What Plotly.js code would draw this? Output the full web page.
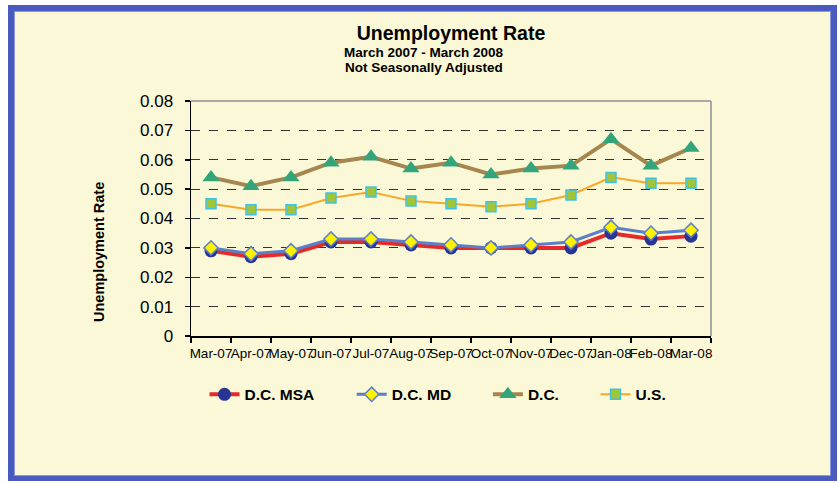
<!DOCTYPE html>
<html>
<head>
<meta charset="utf-8">
<script src="https://cdn.plot.ly/plotly-3.0.1.min.js"></script>
<style>
  html, body { margin: 0; padding: 0; background: #ffffff; }
  #frame {
    position: absolute; left: 8px; top: 5px; width: 817px; height: 465px;
    background: #FAF8D7;
    border: 6px solid #4A5BC0;
    border-bottom-width: 5px;
    box-shadow: inset 0 0 0 1px #8C98DA;
  }
  #chart { position: absolute; left: 0; top: 0; width: 840px; height: 483px; }
</style>
</head>
<body>
<div id="frame"></div>
<div id="chart"></div>
<script>
// ---- data ----
const months = ['Mar-07','Apr-07','May-07','Jun-07','Jul-07','Aug-07','Sep-07','Oct-07','Nov-07','Dec-07','Jan-08','Feb-08','Mar-08'];
const dcMsa = [0.029, 0.027, 0.028, 0.032, 0.032, 0.031, 0.030, 0.030, 0.030, 0.030, 0.035, 0.033, 0.034];
const dcMd  = [0.030, 0.028, 0.029, 0.033, 0.033, 0.032, 0.031, 0.030, 0.031, 0.032, 0.037, 0.035, 0.036];
const dc    = [0.054, 0.051, 0.054, 0.059, 0.061, 0.057, 0.059, 0.055, 0.057, 0.058, 0.067, 0.058, 0.064];
const us    = [0.045, 0.043, 0.043, 0.047, 0.049, 0.046, 0.045, 0.044, 0.045, 0.048, 0.054, 0.052, 0.052];
const yTickVals   = [0, 0.01, 0.02, 0.03, 0.04, 0.05, 0.06, 0.07, 0.08];
const yTickLabels = ['0', '0.01', '0.02', '0.03', '0.04', '0.05', '0.06', '0.07', '0.08'];
const seriesNames = ['D.C. MSA', 'D.C. MD', 'D.C.', 'U.S.'];

const FONT = '"Liberation Sans", Arial, Helvetica, sans-serif';

const traces = [
  { x: months, y: dcMsa, name: seriesNames[0], type: 'scatter', mode: 'lines+markers', legend: 'legend',
    line: { color: '#E52A2A', width: 4 },
    marker: { symbol: 'circle', size: 13, color: '#283593', line: { color: '#283593', width: 0 } } },
  { x: months, y: dcMd, name: seriesNames[1], type: 'scatter', mode: 'lines+markers', legend: 'legend2',
    line: { color: '#5B7FC8', width: 3 },
    marker: { symbol: 'diamond', size: 11, color: '#FFF200', line: { color: '#5B7FC8', width: 1.5 } } },
  { x: months, y: dc, name: seriesNames[2], type: 'scatter', mode: 'lines+markers', legend: 'legend3',
    line: { color: '#A4864E', width: 4 },
    marker: { symbol: 'triangle-up', size: 15, color: '#34A57A', line: { color: '#34A57A', width: 0 } } },
  { x: months, y: us, name: seriesNames[3], type: 'scatter', mode: 'lines+markers', legend: 'legend4',
    line: { color: '#F9A825', width: 2 },
    marker: { symbol: 'square', size: 10, color: '#A0C43A', line: { color: '#3EC3E6', width: 1.5 } } }
];

const legendBase = {
  orientation: 'h', bgcolor: 'rgba(0,0,0,0)', borderwidth: 0,
  yanchor: 'middle', xanchor: 'left', y: -0.25,
  font: { family: FONT, size: 15.5, color: '#000', weight: 700 }
};

const layout = {
  width: 840, height: 483,
  paper_bgcolor: 'rgba(0,0,0,0)', plot_bgcolor: 'rgba(0,0,0,0)',
  margin: { l: 191, r: 129, t: 101, b: 147, pad: 0 },
  font: { family: FONT, color: '#000' },
  showlegend: true,
  title: {
    text: 'Unemployment Rate', x: 0.5, xanchor: 'center', y: 1 - 33 / 483, yanchor: 'middle',
    xref: 'paper',
    font: { family: FONT, size: 19.5, weight: 700, color: '#000' }
  },
  legend:  Object.assign({}, legendBase, { x: 0.026 }),
  legend2: Object.assign({}, legendBase, { x: 0.309 }),
  legend3: Object.assign({}, legendBase, { x: 0.571 }),
  legend4: Object.assign({}, legendBase, { x: 0.778 }),
  xaxis: {
    type: 'category', range: [-0.5, 12.5], tickmode: 'linear', tick0: 0, dtick: 1,
    tickson: 'boundaries', ticks: 'outside', ticklen: 5, tickcolor: '#000', tickwidth: 1.5,
    showline: true, linecolor: '#000', linewidth: 1.5, showgrid: false, zeroline: false,
    tickangle: 0, tickfont: { family: FONT, size: 13.5, color: '#000' }, ticklabelstandoff: 4
  },
  yaxis: {
    range: [0, 0.08], tickmode: 'array', tickvals: yTickVals, ticktext: yTickLabels,
    ticks: 'outside', ticklen: 5, tickcolor: '#000', tickwidth: 1.5,
    showline: true, linecolor: '#000', linewidth: 1.5, zeroline: false,
    showgrid: true, gridcolor: '#333', gridwidth: 1, griddash: 'dash',
    tickfont: { family: FONT, size: 17, color: '#000' }, ticklabelstandoff: 8
  },
  shapes: [
    { type: 'line', xref: 'paper', yref: 'paper', x0: 0, x1: 1, y0: 1, y1: 1, line: { color: '#A8A8A8', width: 2 } },
    { type: 'line', xref: 'paper', yref: 'paper', x0: 1, x1: 1, y0: 0, y1: 1, line: { color: '#A8A8A8', width: 2 } }
  ],
  annotations: [
    { text: 'March 2007 - March 2008', xref: 'paper', yref: 'paper', x: (424 - 191) / 520, y: (336 - 52) / 235,
      xanchor: 'center', yanchor: 'middle', showarrow: false,
      font: { family: FONT, size: 13.5, weight: 700, color: '#000' } },
    { text: 'Not Seasonally Adjusted', xref: 'paper', yref: 'paper', x: (424 - 191) / 520, y: (336 - 67) / 235,
      xanchor: 'center', yanchor: 'middle', showarrow: false,
      font: { family: FONT, size: 13.5, weight: 700, color: '#000' } },
    { text: 'Unemployment Rate', xref: 'paper', yref: 'paper', x: (99 - 191) / 520, y: (336 - 252) / 235,
      xanchor: 'center', yanchor: 'middle', showarrow: false, textangle: -90,
      font: { family: FONT, size: 14.5, weight: 700, color: '#000' } }
  ]
};

Plotly.newPlot('chart', traces, layout, { displayModeBar: false, staticPlot: true });
</script>
</body>
</html>
